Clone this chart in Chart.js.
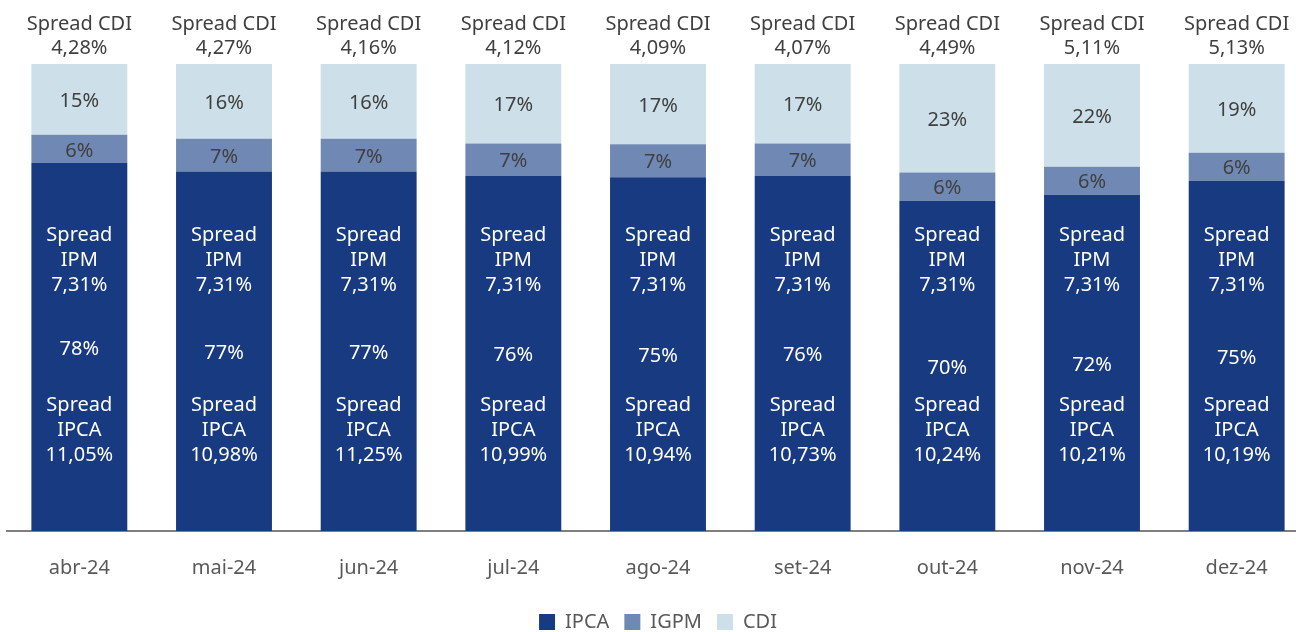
<!DOCTYPE html>
<html>
<head>
  <title>Spread por indexador</title>
  <script src="https://cdn.jsdelivr.net/npm/chart.js@4.4.2/dist/chart.umd.min.js"></script>
  <style>
    html, body { margin: 0; padding: 0; overflow: hidden; background: #fff; }
    #wrap { width: 1310px; height: 642px; position: relative; }
  </style>
</head>
<body>
<div id="wrap"><canvas id="spreadChart"></canvas></div>
<script>
const months = ['abr-24', 'mai-24', 'jun-24', 'jul-24', 'ago-24', 'set-24', 'out-24', 'nov-24', 'dez-24'];
const ipca = [78, 77, 77, 76, 75, 76, 70, 72, 75];
const igpm = [6, 7, 7, 7, 7, 7, 6, 6, 6];
const cdi = [15, 16, 16, 17, 17, 17, 23, 22, 19];
const spreadCdi = ['4,28%', '4,27%', '4,16%', '4,12%', '4,09%', '4,07%', '4,49%', '5,11%', '5,13%'];
const spreadIpm = ['7,31%', '7,31%', '7,31%', '7,31%', '7,31%', '7,31%', '7,31%', '7,31%', '7,31%'];
const spreadIpca = ['11,05%', '10,98%', '11,25%', '10,99%', '10,94%', '10,73%', '10,24%', '10,21%', '10,19%'];

// 100% stacked: scale each month so the three parts fill the bar
const totals = months.map((m, i) => ipca[i] + igpm[i] + cdi[i]);
const share = arr => arr.map((v, i) => v / totals[i] * 100);

const FONT = '"Noto Sans", "Open Sans", sans-serif';

const labelPlugin = {
  id: 'barLabels',
  afterDatasetsDraw(chart) {
    const ctx = chart.ctx;
    const yScale = chart.scales.y;
    const top = chart.chartArea.top;
    const metas = [0, 1, 2].map(d => chart.getDatasetMeta(d));
    const raw = [ipca, igpm, cdi];
    ctx.save();
    ctx.textAlign = 'center';
    ctx.textBaseline = 'middle';
    ctx.font = '20px ' + FONT;
    metas[0].data.forEach((bar, i) => {
      const x = bar.x;
      // segment percentages
      metas.forEach((meta, d) => {
        const el = meta.data[i];
        ctx.fillStyle = d === 0 ? '#ffffff' : '#404040';
        ctx.fillText(raw[d][i] + '%', x, (el.y + el.base) / 2 + 2);
      });
      // spread boxes inside IPCA
      ctx.fillStyle = '#ffffff';
      const ipmY = yScale.getPixelForValue(58);
      ['Spread', 'IPM', spreadIpm[i]].forEach((t, k) => ctx.fillText(t, x, ipmY + (k - 1) * 25));
      const ipcaY = yScale.getPixelForValue(21.6);
      ['Spread', 'IPCA', spreadIpca[i]].forEach((t, k) => ctx.fillText(t, x, ipcaY + (k - 1) * 25));
      // top labels
      ctx.fillStyle = '#404040';
      ctx.fillText('Spread CDI', x, top - 40);
      ctx.fillText(spreadCdi[i], x, top - 16);
    });
    ctx.restore();
  }
};

const ctx = document.getElementById('spreadChart').getContext('2d');
new Chart(ctx, {
  type: 'bar',
  data: {
    labels: months,
    datasets: [
      { label: 'IPCA', data: share(ipca), backgroundColor: '#183a80' },
      { label: 'IGPM', data: share(igpm), backgroundColor: '#7088b4' },
      { label: 'CDI', data: share(cdi), backgroundColor: '#cddfe8' }
    ]
  },
  options: {
    responsive: true,
    maintainAspectRatio: false,
    animation: false,
    datasets: { bar: { barPercentage: 0.663, categoryPercentage: 1 } },
    layout: { padding: { top: 64, left: 7, right: 1, bottom: 0 } },
    plugins: {
      tooltip: { enabled: false },
      legend: {
        position: 'bottom',
        labels: { boxWidth: 16, boxHeight: 16, color: '#595959', font: { family: FONT, size: 20 }, padding: 15 }
      }
    },
    scales: {
      x: {
        stacked: true,
        grid: { display: false },
        border: { color: '#7f7f7f', width: 2 },
        ticks: { color: '#595959', font: { family: FONT, size: 20 }, padding: 17 }
      },
      y: { stacked: true, display: false, min: 0, max: 100 }
    }
  },
  plugins: [labelPlugin]
});
</script>
</body>
</html>
